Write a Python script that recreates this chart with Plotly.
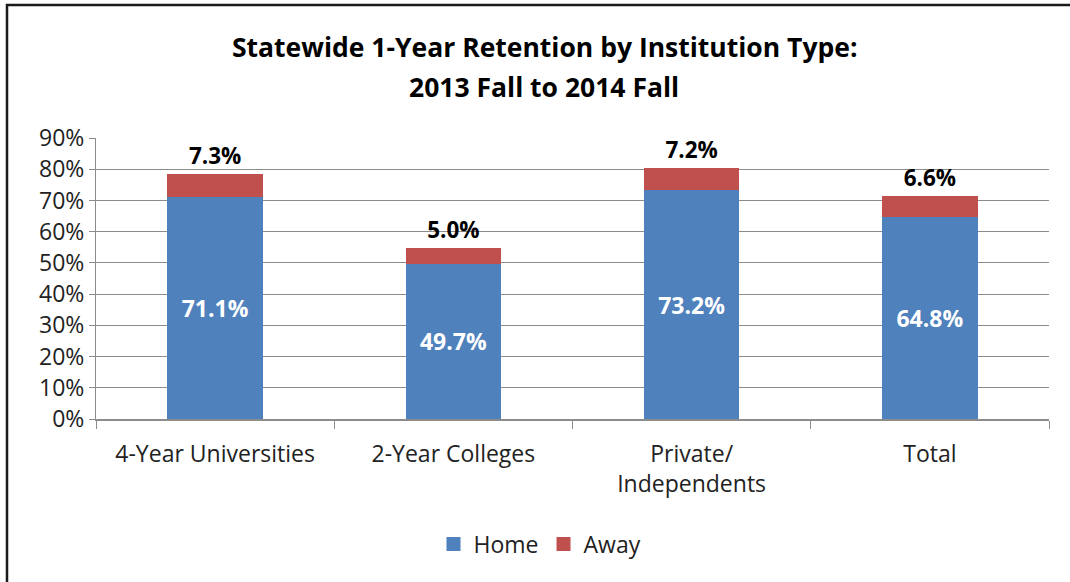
import plotly.graph_objects as go

categories = ["4-Year Universities", "2-Year Colleges", "Private/<br>Independents", "Total"]
home = [71.1, 49.7, 73.2, 64.8]
away = [7.3, 5.0, 7.2, 6.6]
y_ticks = [0, 10, 20, 30, 40, 50, 60, 70, 80, 90]
y_tick_labels = [f"{v}%" for v in y_ticks]
title_lines = ["Statewide 1-Year Retention by Institution Type:", "2013 Fall to 2014 Fall"]

FONT = "'Open Sans', 'Noto Sans', sans-serif"
BLUE = "#4F81BD"
RED = "#C0504D"

fig = go.Figure()
fig.add_trace(go.Bar(
    x=categories, y=home, name="Home", marker=dict(color=BLUE, line=dict(width=0)),
    text=[f"{v:.1f}%" for v in home], textposition="inside", insidetextanchor="middle",
    textfont=dict(family=FONT, size=23, color="white", weight="bold"),
    width=0.4, showlegend=False,
))
fig.add_trace(go.Bar(
    x=categories, y=away, name="Away", marker=dict(color=RED, line=dict(width=0)),
    text=[f"{v:.1f}%" for v in away], textposition="outside",
    textfont=dict(family=FONT, size=22.5, color="black", weight="bold"),
    outsidetextfont=dict(family=FONT, size=22.5, color="black", weight="bold"),
    cliponaxis=False, width=0.4, showlegend=False,
))
# legend entries with square swatches
for name, color in [("Home", BLUE), ("Away", RED)]:
    fig.add_trace(go.Scatter(
        x=[None], y=[None], mode="markers", name=name,
        marker=dict(symbol="square", size=14, color=color),
    ))

L, R, T, B = 96, 1049, 138, 419
W, H = 1070, 582
pw, ph = R - L, B - T

annotations = []
for i, line in enumerate(title_lines):
    annotations.append(dict(
        text=line, xref="paper", yref="paper",
        x=(544 - L) / pw, xanchor="center",
        y=(B - (47 + 40 * i)) / ph, yanchor="middle",
        showarrow=False,
        font=dict(family=FONT, size=26.5, color="black", weight="bold"),
    ))

fig.update_layout(
    width=W, height=H,
    margin=dict(l=L, r=W - R, t=T, b=H - B, autoexpand=False),
    barmode="stack",
    plot_bgcolor="white", paper_bgcolor="white",
    font=dict(family=FONT, size=23, color="#222222"),
    annotations=annotations,
    legend=dict(
        orientation="h", x=(540 - L) / pw, xanchor="center", y=-(544 - B) / ph, yanchor="middle",
        font=dict(family=FONT, size=23, color="#222222"), traceorder="normal",
        itemwidth=30,
    ),
    shapes=[dict(
        type="rect", xref="paper", yref="paper",
        x0=(7 - L) / pw, x1=(1085 - L) / pw,
        y0=-(600 - B) / ph, y1=(B - 5) / ph,
        line=dict(color="#1a1a1a", width=2.5), fillcolor="rgba(0,0,0,0)", layer="below",
    )],
)
fig.update_yaxes(
    range=[0, 90], tickvals=y_ticks, ticktext=y_tick_labels,
    showgrid=True, gridcolor="#8c8c8c", gridwidth=1,
    showline=True, linecolor="#8c8c8c", linewidth=1,
    ticks="outside", ticklen=6, tickcolor="#8c8c8c",
    tickfont=dict(family=FONT, size=23, color="#222222"),
    zeroline=False,
)
fig.update_xaxes(
    showline=True, linecolor="#8c8c8c", linewidth=1.5,
    ticks="outside", ticklen=8, tickcolor="#8c8c8c", tickson="boundaries",
    tickfont=dict(family=FONT, size=23, color="#222222"),
    ticklabelstandoff=14,
)

fig.write_html("out.html", config={"displayModeBar": False},
               post_script="document.body.style.margin='0';document.body.style.padding='0';")
